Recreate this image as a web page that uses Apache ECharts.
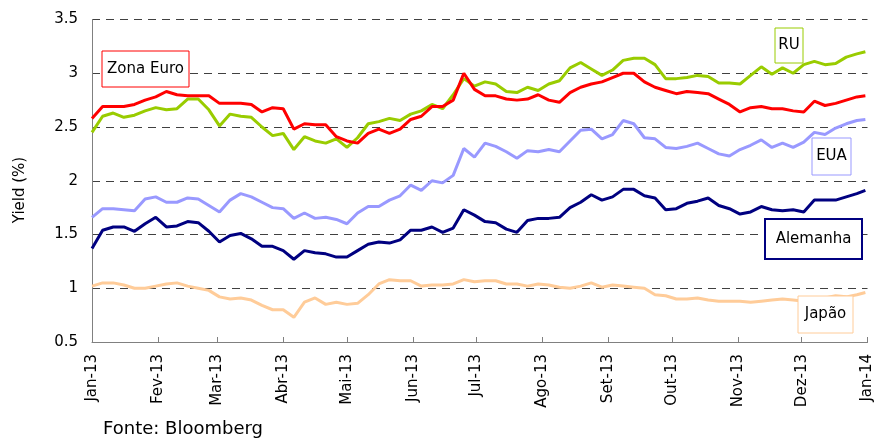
<!DOCTYPE html>
<html><head><meta charset="utf-8">
<script src="https://cdn.jsdelivr.net/npm/echarts@6/dist/echarts.min.js"></script>
<style>html,body{margin:0;padding:0;background:#fff}#c{width:875px;height:441px}</style>
</head><body><div id="c"></div><script>
const dates = ['2013-01-01','2013-01-06','2013-01-11','2013-01-16','2013-01-21','2013-01-26','2013-01-31',
'2013-02-05','2013-02-10','2013-02-15','2013-02-20','2013-02-25','2013-03-02','2013-03-07','2013-03-12',
'2013-03-17','2013-03-22','2013-03-27','2013-04-01','2013-04-06','2013-04-11','2013-04-16','2013-04-21',
'2013-04-26','2013-05-01','2013-05-06','2013-05-11','2013-05-16','2013-05-21','2013-05-26','2013-05-31',
'2013-06-05','2013-06-10','2013-06-15','2013-06-20','2013-06-25','2013-06-30','2013-07-05','2013-07-10',
'2013-07-15','2013-07-20','2013-07-25','2013-07-30','2013-08-04','2013-08-09','2013-08-14','2013-08-19',
'2013-08-24','2013-08-29','2013-09-03','2013-09-08','2013-09-13','2013-09-18','2013-09-23','2013-09-28',
'2013-10-03','2013-10-08','2013-10-13','2013-10-18','2013-10-23','2013-10-28','2013-11-02','2013-11-07',
'2013-11-12','2013-11-17','2013-11-22','2013-11-27','2013-12-02','2013-12-07','2013-12-12','2013-12-17',
'2013-12-22','2013-12-27','2013-12-31'];

const zonaEuro = [2.58,2.69,2.69,2.69,2.71,2.75,2.78,2.83,2.80,2.79,
2.79,2.79,2.72,2.72,2.72,2.71,2.64,2.68,2.67,2.48,
2.53,2.52,2.52,2.41,2.37,2.35,2.44,2.48,2.44,2.48,
2.57,2.60,2.69,2.69,2.75,3.00,2.85,2.79,2.79,2.76,
2.75,2.76,2.80,2.75,2.73,2.82,2.87,2.90,2.92,2.96,
3.00,3.00,2.92,2.87,2.84,2.81,2.83,2.82,2.81,2.76,
2.71,2.64,2.68,2.69,2.67,2.67,2.65,2.64,2.74,2.70,
2.72,2.75,2.78,2.79];

const ru = [2.45,2.60,2.63,2.59,2.61,2.65,2.68,2.66,2.67,2.76,
2.76,2.66,2.51,2.62,2.60,2.59,2.50,2.42,2.44,2.29,
2.41,2.37,2.35,2.39,2.31,2.40,2.53,2.55,2.58,2.56,
2.62,2.65,2.71,2.67,2.80,2.95,2.88,2.92,2.90,2.83,
2.82,2.87,2.84,2.90,2.93,3.05,3.10,3.04,2.98,3.03,
3.12,3.14,3.14,3.08,2.95,2.95,2.96,2.98,2.97,2.91,
2.91,2.90,2.98,3.06,2.99,3.05,3.00,3.08,3.11,3.08,
3.09,3.15,3.18,3.20];

const eua = [1.66,1.74,1.74,1.73,1.72,1.83,1.85,1.80,1.80,1.84,
1.83,1.77,1.71,1.82,1.88,1.85,1.80,1.75,1.74,1.65,
1.70,1.65,1.66,1.64,1.60,1.70,1.76,1.76,1.82,1.86,
1.96,1.91,2.00,1.98,2.05,2.30,2.22,2.35,2.32,2.27,
2.21,2.28,2.27,2.29,2.27,2.37,2.47,2.48,2.39,2.43,
2.56,2.53,2.40,2.39,2.31,2.30,2.32,2.35,2.30,2.25,
2.23,2.29,2.33,2.38,2.31,2.35,2.31,2.36,2.45,2.43,
2.49,2.53,2.56,2.57];

const alemanha = [1.37,1.54,1.57,1.57,1.53,1.60,1.66,1.57,1.58,1.62,
1.61,1.53,1.43,1.49,1.51,1.46,1.39,1.39,1.35,1.27,
1.35,1.33,1.32,1.29,1.29,1.35,1.41,1.43,1.42,1.45,
1.54,1.54,1.57,1.52,1.56,1.73,1.68,1.62,1.61,1.55,
1.52,1.63,1.65,1.65,1.66,1.75,1.80,1.87,1.82,1.85,
1.92,1.92,1.86,1.84,1.73,1.74,1.79,1.81,1.84,1.77,
1.74,1.69,1.71,1.76,1.73,1.72,1.73,1.71,1.82,1.82,
1.82,1.85,1.88,1.91];

const japao = [1.02,1.05,1.05,1.03,1.00,1.00,1.02,1.04,1.05,1.02,
1.00,0.98,0.92,0.90,0.91,0.89,0.84,0.80,0.80,0.73,
0.87,0.91,0.85,0.87,0.85,0.86,0.94,1.04,1.08,1.07,
1.07,1.02,1.03,1.03,1.04,1.08,1.06,1.07,1.07,1.04,
1.04,1.02,1.04,1.03,1.01,1.00,1.02,1.05,1.01,1.03,
1.02,1.01,1.00,0.94,0.93,0.90,0.90,0.91,0.89,0.88,
0.88,0.88,0.87,0.88,0.89,0.90,0.89,0.88,0.90,0.91,
0.93,0.92,0.94,0.96];

const monthStarts = ['2013-01-01','2013-02-01','2013-03-01','2013-04-01','2013-05-01','2013-06-01',
'2013-07-01','2013-08-01','2013-09-01','2013-10-01','2013-11-01','2013-12-01','2014-01-01'];
const monthLabels = ['Jan-13','Fev-13','Mar-13','Abr-13','Mai-13','Jun-13','Jul-13','Ago-13',
'Set-13','Out-13','Nov-13','Dez-13','Jan-14'];

function toTs(s){const p=s.split('-');return Date.UTC(+p[0],+p[1]-1,+p[2]);}
function pairs(vals){return dates.map(function(d,i){return [toTs(d),vals[i]];});}
const tickTs = monthStarts.map(toTs);
const FONT = 'DejaVu Sans';

function box(x,y,w,h,color,label,lw){
  return [
    {type:'rect',z:100,shape:{x:x,y:y,width:w,height:h},style:{fill:'#fff',stroke:color,lineWidth:lw||1}},
    {type:'text',z:101,x:x+w/2,y:y+h/2,style:{text:label,font:'15px "DejaVu Sans"',fill:'#000',
      align:'center',verticalAlign:'middle',textAlign:'center',textVerticalAlign:'middle'}}
  ];
}

function lineSeries(name,vals,color){
  return {name:name,type:'line',data:pairs(vals),showSymbol:false,symbol:'none',
    lineStyle:{width:3,color:color},itemStyle:{color:color},emphasis:{disabled:true}};
}

const chart = echarts.init(document.getElementById('c'),null,{renderer:'canvas'});
chart.setOption({
  animation:false,
  backgroundColor:'#fff',
  grid:{left:92,right:6,top:19.5,bottom:99,containLabel:false},
  xAxis:{type:'value',min:tickTs[0],max:tickTs[tickTs.length-1],
    axisLine:{show:true,lineStyle:{color:'#808080',width:1}},
    axisTick:{show:true,inside:true,length:5,customValues:tickTs,lineStyle:{color:'#808080'}},
    axisLabel:{customValues:tickTs,rotate:90,margin:12,color:'#000',fontFamily:FONT,fontSize:15,
      hideOverlap:false,
      formatter:function(v){
        let best=-1,bd=Infinity;
        for(let i=0;i<tickTs.length;i++){const d=Math.abs(tickTs[i]-v);if(d<bd){bd=d;best=i;}}
        return bd<2*86400000?monthLabels[best]:'';
      }},
    splitLine:{show:false}},
  yAxis:{type:'value',min:0.5,max:3.5,interval:0.5,
    axisLine:{show:true,lineStyle:{color:'#808080',width:1}},
    axisTick:{show:false},
    axisLabel:{margin:14,color:'#000',fontFamily:FONT,fontSize:15},
    splitLine:{show:true,lineStyle:{color:'#404040',type:[8,6],width:1}}},
  series:[
    lineSeries('Alemanha',alemanha,'#000080'),
    lineSeries('EUA',eua,'#9999FF'),
    lineSeries('Japão',japao,'#FFCC99'),
    lineSeries('RU',ru,'#99CC00'),
    lineSeries('Zona Euro',zonaEuro,'#FF0000')
  ],
  graphic:[].concat(
    box(102,51,87,36,'#FF0000','Zona Euro'),
    box(775,28,28,35,'#99CC00','RU'),
    box(812,138,39,37,'#9999FF','EUA'),
    box(765,219,97,40,'#000080','Alemanha',2),
    box(798,296,55,37,'#FFCC99','Japão'),
    [
      {type:'text',x:20,y:190,rotation:Math.PI/2,style:{text:'Yield (%)',font:'15px "DejaVu Sans"',fill:'#000',
        align:'center',verticalAlign:'middle',textAlign:'center',textVerticalAlign:'middle'}},
      {type:'text',x:103,y:420,style:{text:'Fonte: Bloomberg',font:'18px "DejaVu Sans"',fill:'#000',
        align:'left',verticalAlign:'top',textAlign:'left',textVerticalAlign:'top'}}
    ]
  )
});
</script></body></html>
